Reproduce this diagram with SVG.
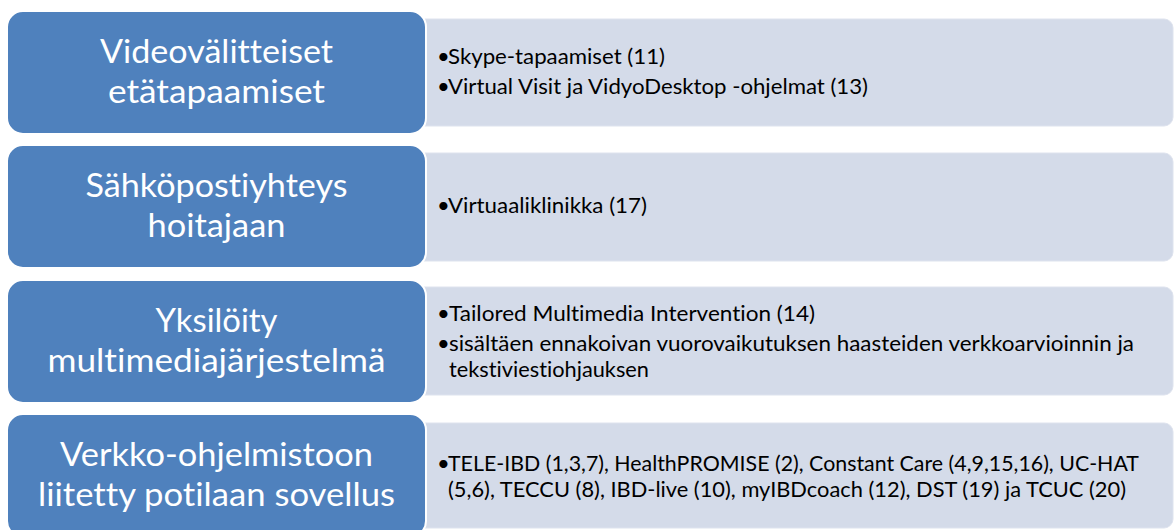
<svg xmlns="http://www.w3.org/2000/svg" width="1174" height="530" viewBox="0 0 1174 530">
<style>
.bg{fill:#FFFFFF}
.blue{fill:#4F81BD;stroke:#FFFFFF;stroke-width:2}
.light{fill:#D4DBE9;stroke:#DEE3EE;stroke-width:1}
.title{font-family:Lato,"Open Sans","Liberation Sans",sans-serif;font-size:33px;fill:#FFFFFF;text-anchor:middle;font-variant-ligatures:none;font-feature-settings:"liga" 0,"dlig" 0}
.body{font-family:Lato,"Open Sans","Liberation Sans",sans-serif;font-size:22px;fill:#000000;font-variant-ligatures:none;font-feature-settings:"liga" 0,"dlig" 0}
</style>
<rect class="bg" x="0" y="0" width="1174" height="530"/>
<g id="connectors"></g>
<g id="node1">
<rect class="light" x="380" y="19" width="793" height="107" rx="9"/>
<rect class="blue" x="7" y="11" width="419" height="123" rx="16"/>
<text class="title" x="216.5" y="63" textLength="233" lengthAdjust="spacingAndGlyphs">Videovälitteiset</text>
<text class="title" x="216.5" y="103" textLength="217" lengthAdjust="spacingAndGlyphs">etätapaamiset</text>
<text class="body" x="437" y="64">•</text>
<text class="body" x="448" y="64" textLength="217" lengthAdjust="spacingAndGlyphs">Skype-tapaamiset (11)</text>
<text class="body" x="437" y="94">•</text>
<text class="body" x="448" y="94" textLength="420" lengthAdjust="spacingAndGlyphs">Virtual Visit ja VidyoDesktop -ohjelmat (13)</text>
</g>
<g id="node2">
<rect class="light" x="380" y="153" width="793" height="108" rx="9"/>
<rect class="blue" x="7" y="145" width="419" height="123" rx="16"/>
<text class="title" x="216.5" y="197" textLength="262" lengthAdjust="spacingAndGlyphs">Sähköpostiyhteys</text>
<text class="title" x="216.5" y="237" textLength="138" lengthAdjust="spacingAndGlyphs">hoitajaan</text>
<text class="body" x="437" y="213">•</text>
<text class="body" x="448" y="213" textLength="199" lengthAdjust="spacingAndGlyphs">Virtuaaliklinikka (17)</text>
</g>
<g id="node3">
<rect class="light" x="380" y="287" width="793" height="108" rx="9"/>
<rect class="blue" x="7" y="280" width="419" height="123" rx="16"/>
<text class="title" x="216.5" y="332" textLength="122" lengthAdjust="spacingAndGlyphs">Yksilöity</text>
<text class="title" x="216.5" y="372" textLength="338" lengthAdjust="spacingAndGlyphs">multimediajärjestelmä</text>
<text class="body" x="437" y="321">•</text>
<text class="body" x="449" y="321" textLength="366" lengthAdjust="spacingAndGlyphs">Tailored Multimedia Intervention (14)</text>
<text class="body" x="437" y="351">•</text>
<text class="body" x="449" y="351" textLength="685" lengthAdjust="spacingAndGlyphs">sisältäen ennakoivan vuorovaikutuksen haasteiden verkkoarvioinnin ja</text>
<text class="body" x="449" y="377" textLength="200" lengthAdjust="spacingAndGlyphs">tekstiviestiohjauksen</text>
</g>
<g id="node4">
<rect class="light" x="380" y="423" width="793" height="105" rx="9"/>
<rect class="blue" x="7" y="414" width="419" height="123" rx="16"/>
<text class="title" x="216.5" y="466" textLength="313" lengthAdjust="spacingAndGlyphs">Verkko-ohjelmistoon</text>
<text class="title" x="216.5" y="506" textLength="357" lengthAdjust="spacingAndGlyphs">liitetty potilaan sovellus</text>
<text class="body" x="437" y="471">•</text>
<text class="body" x="448" y="471" textLength="691" lengthAdjust="spacingAndGlyphs">TELE-IBD (1,3,7), HealthPROMISE (2), Constant Care (4,9,15,16), UC-HAT</text>
<text class="body" x="448" y="497" textLength="678" lengthAdjust="spacingAndGlyphs">(5,6), TECCU (8), IBD-live (10), myIBDcoach (12), DST (19) ja TCUC (20)</text>
</g>
</svg>
